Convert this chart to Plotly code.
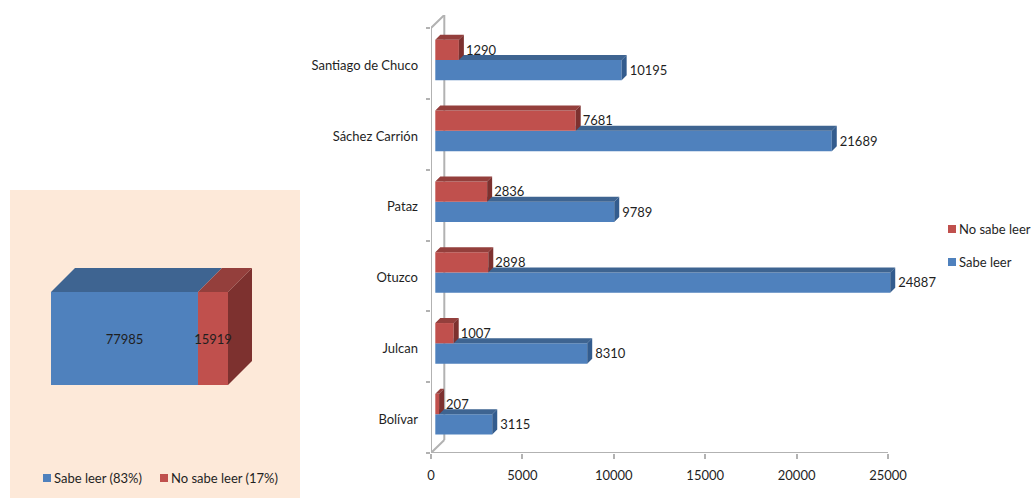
import plotly.graph_objects as go

# Literacy counts by province
provinces = ["Bolívar", "Julcan", "Otuzco", "Pataz", "Sáchez Carrión", "Santiago de Chuco"]
sabe_leer = [3115, 8310, 24887, 9789, 21689, 10195]
no_sabe_leer = [207, 1007, 2898, 2836, 7681, 1290]
x_ticks = [0, 5000, 10000, 15000, 20000, 25000]

# Regional totals
total_sabe = 77985
total_no_sabe = 15919
total_names = ["Sabe leer (83%)", "No sabe leer (17%)"]
series_names = ["No sabe leer", "Sabe leer"]

BLUE, BLUE_TOP, BLUE_SIDE = "#4F81BD", "#3E6491", "#335C8E"
RED, RED_TOP, RED_SIDE = "#C0504D", "#943F3C", "#7D312F"
GRID = "#B2B2B2"
PANEL = "#FDE9D9"
INK = "#1F1F1F"
FONT = "Lato"
FS = 13
W, H = 1032, 498

# Pixel box of each plot area before extrusion room is added
MAIN_L, MAIN_R, MAIN_T, MAIN_B = 431, 888, 15, 453
BOX_L, BOX_R, BOX_T, BOX_B = 51, 228, 292, 385

# Extrusion sizes in axis units
CAT_PX = 70.8
X_MAX = x_ticks[-1]
UNIT_PX = (MAIN_R - MAIN_L) / X_MAX
WALL_DX, WALL_DY = 13.3 / UNIT_PX, 13 / CAT_PX
INSET = 4.3 / UNIT_PX
BAR_DX, BAR_DY = 5 / UNIT_PX, 5 / CAT_PX
BAR_H = 20.3 / CAT_PX
SPLIT = 0.048
LABEL_DROP = 1.5 / CAT_PX
y_top = 5.5 + WALL_DY
# Room past the last tick so the longest extruded bar stays inside the subplot
x_room = 1000
main_right = MAIN_R + x_room * UNIT_PX

fy = lambda top, bottom: [(H - bottom) / H, (H - top) / H]


def polys(shapes):
    """Join polygons into one x/y pair of lists, None-separated."""
    xs, ys = [], []
    for pts in shapes:
        for a, b in pts + [pts[0]]:
            xs.append(a)
            ys.append(b)
        xs.append(None)
        ys.append(None)
    return xs, ys


def face(xs_ys, color, xaxis="x", yaxis="y"):
    return go.Scatter(
        x=xs_ys[0], y=xs_ys[1], mode="lines", fill="toself", fillcolor=color,
        line=dict(width=0, color=color), xaxis=xaxis, yaxis=yaxis,
        showlegend=False, hoverinfo="skip", cliponaxis=False,
    )


fig = go.Figure()

# Front faces of the grouped bars
blue_y = [i + SPLIT - BAR_H / 2 for i in range(len(provinces))]
red_y = [i + SPLIT + BAR_H / 2 for i in range(len(provinces))]
fig.add_trace(go.Bar(y=blue_y, x=sabe_leer, base=INSET, width=BAR_H, orientation="h",
                     marker=dict(color=BLUE, line=dict(width=0)), name="Sabe leer", showlegend=False))
fig.add_trace(go.Bar(y=red_y, x=no_sabe_leer, base=INSET, width=BAR_H, orientation="h",
                     marker=dict(color=RED, line=dict(width=0)), name="No sabe leer", showlegend=False))

# Extruded top and side faces; blue tops start where the red bar ends
blue_top, blue_side, red_top, red_side = [], [], [], []
for yb, yr, b, r in zip(blue_y, red_y, sabe_leer, no_sabe_leer):
    xb, xr = INSET + b, INSET + r
    t, u = yb + BAR_H / 2, yb - BAR_H / 2
    blue_top.append([(xr, t), (xb, t), (xb + BAR_DX, t + BAR_DY), (xr, t + BAR_DY)])
    blue_side.append([(xb, u), (xb + BAR_DX, u + BAR_DY), (xb + BAR_DX, t + BAR_DY), (xb, t)])
    t, u = yr + BAR_H / 2, yr - BAR_H / 2
    red_top.append([(INSET, t), (xr, t), (xr + BAR_DX, t + BAR_DY), (INSET + BAR_DX, t + BAR_DY)])
    red_side.append([(xr, u), (xr + BAR_DX, u + BAR_DY), (xr + BAR_DX, t + BAR_DY), (xr, t)])
for shapes, color in [(blue_top, BLUE_TOP), (blue_side, BLUE_SIDE), (red_top, RED_TOP), (red_side, RED_SIDE)]:
    fig.add_trace(face(polys(shapes), color))

# Front wall edge, floor line and diagonals of the 3D frame
fig.add_trace(go.Scatter(
    x=[X_MAX, 0, WALL_DX, 0, 0, WALL_DX], y=[-0.5, -0.5, -0.5 + WALL_DY, -0.5, 5.5, 5.5 + WALL_DY],
    mode="lines", line=dict(color=GRID, width=2), cliponaxis=False,
    showlegend=False, hoverinfo="skip",
))

# Value labels at the bar ends
for ys, vals, gap in [(blue_y, sabe_leer, 3), (red_y, no_sabe_leer, 2)]:
    fig.add_trace(go.Scatter(
        x=[INSET + v + BAR_DX + gap / UNIT_PX for v in vals], y=[a - LABEL_DROP for a in ys], mode="text",
        text=[str(v) for v in vals], textposition="middle right",
        textfont=dict(family=FONT, size=FS, color=INK), cliponaxis=False,
        showlegend=False, hoverinfo="skip",
    ))

# Stacked single bar for the totals
grand = total_sabe + total_no_sabe
box_unit = (BOX_R - BOX_L) / grand
BOX_DX, BOX_DY = 24 / box_unit, 24 / (BOX_B - BOX_T)
fig.add_trace(go.Bar(y=[0.5], x=[total_sabe], base=0, width=1, orientation="h", xaxis="x2", yaxis="y2",
                     marker=dict(color=BLUE, line=dict(width=0)), showlegend=False))
fig.add_trace(go.Bar(y=[0.5], x=[total_no_sabe], base=total_sabe, width=1, orientation="h", xaxis="x2", yaxis="y2",
                     marker=dict(color=RED, line=dict(width=0)), showlegend=False))
fig.add_trace(face(polys([[(0, 1), (total_sabe, 1), (total_sabe + BOX_DX, 1 + BOX_DY), (BOX_DX, 1 + BOX_DY)]]),
                   BLUE_TOP, "x2", "y2"))
fig.add_trace(face(polys([[(total_sabe, 1), (grand, 1), (grand + BOX_DX, 1 + BOX_DY), (total_sabe + BOX_DX, 1 + BOX_DY)]]),
                   RED_TOP, "x2", "y2"))
fig.add_trace(face(polys([[(grand, 0), (grand + BOX_DX, BOX_DY), (grand + BOX_DX, 1 + BOX_DY), (grand, 1)]]),
                   RED_SIDE, "x2", "y2"))
fig.add_trace(go.Scatter(
    x=[total_sabe / 2, total_sabe + total_no_sabe / 2], y=[0.48, 0.48], mode="text",
    text=[str(total_sabe), str(total_no_sabe)], textposition="middle center",
    textfont=dict(family=FONT, size=FS, color=INK), xaxis="x2", yaxis="y2",
    cliponaxis=False, showlegend=False, hoverinfo="skip",
))

# Panel behind the totals and the back wall of the frame
shapes = [
    dict(type="rect", xref="paper", yref="paper", x0=10 / W, x1=300 / W, y0=0, y1=(H - 190) / H,
         fillcolor=PANEL, line=dict(width=0), layer="below"),
    dict(type="line", xref="x", yref="y", x0=WALL_DX, x1=WALL_DX, y0=-0.5 + WALL_DY, y1=5.5 + WALL_DY,
         line=dict(color=GRID, width=2), layer="below"),
]

# Legend swatches and captions
annotations = []


def legend_item(px, py, label, color):
    shapes.append(dict(type="rect", xref="paper", yref="paper",
                       x0=px / W, x1=(px + 8) / W, y0=(H - py - 4) / H, y1=(H - py + 4) / H,
                       fillcolor=color, line=dict(width=0)))
    annotations.append(dict(xref="paper", yref="paper", x=(px + 9) / W, y=(H - py) / H,
                            text=label, showarrow=False, xanchor="left", yanchor="middle",
                            font=dict(family=FONT, size=FS, color=INK)))


legend_item(948, 229, series_names[0], RED)
legend_item(948, 262, series_names[1], BLUE)
legend_item(43, 478, total_names[0], BLUE)
legend_item(160, 478, total_names[1], RED)

fig.update_layout(
    width=W, height=H, margin=dict(l=0, r=0, t=0, b=0, autoexpand=False),
    paper_bgcolor="white", plot_bgcolor="rgba(0,0,0,0)", barmode="overlay",
    font=dict(family=FONT, size=FS, color=INK), showlegend=False,
    shapes=shapes, annotations=annotations,
    xaxis=dict(domain=[MAIN_L / W, main_right / W], range=[0, X_MAX + x_room], tickmode="array", tickvals=x_ticks,
               tickformat="d", ticks="outside", ticklen=5, tickwidth=2, tickcolor=GRID, showline=False,
               showgrid=False, zeroline=False, ticklabelstandoff=5,
               tickfont=dict(family=FONT, size=FS, color=INK), anchor="y"),
    yaxis=dict(domain=fy(MAIN_T, MAIN_B), range=[-0.5, y_top], tickmode="array",
               tickvals=[i - 0.025 for i in range(len(provinces))], ticktext=provinces, ticks="", ticklen=0,
               minor=dict(tickmode="array", tickvals=[i - 0.5 for i in range(len(provinces) + 1)],
                          ticks="outside", ticklen=4, tickwidth=2, tickcolor=GRID, showgrid=False),
               showline=False, showgrid=False, zeroline=False, ticklabelstandoff=12,
               tickfont=dict(family=FONT, size=FS, color=INK), anchor="x"),
    xaxis2=dict(domain=[BOX_L / W, (BOX_R + 24) / W], range=[0, grand + BOX_DX], visible=False, anchor="y2"),
    yaxis2=dict(domain=fy(BOX_T - 24, BOX_B), range=[0, 1 + BOX_DY], visible=False, anchor="x2"),
)

fig.write_html("out.html")
